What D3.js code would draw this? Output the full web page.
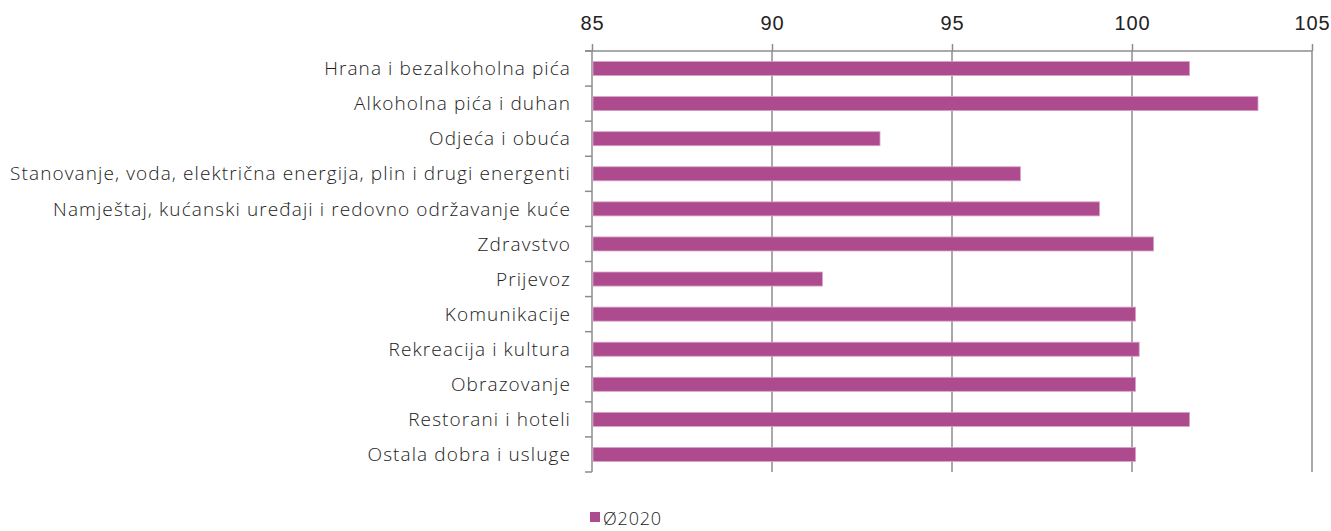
<!DOCTYPE html>
<html lang="hr">
<head>
<meta charset="UTF-8">
<title>Ø2020</title>
<script src="https://d3js.org/d3.v7.min.js"></script>
<style>
  body { margin: 0; background: #fff; }
  svg { display: block; font-family: "Open Sans", sans-serif; }
  .tick text { fill: #222; }
</style>
</head>
<body>
<svg></svg>
<script>
  // podaci
  const categories = [
    "Hrana i bezalkoholna pića",
    "Alkoholna pića i duhan",
    "Odjeća i obuća",
    "Stanovanje, voda, električna energija, plin i drugi energenti",
    "Namještaj, kućanski uređaji i redovno održavanje kuće",
    "Zdravstvo",
    "Prijevoz",
    "Komunikacije",
    "Rekreacija i kultura",
    "Obrazovanje",
    "Restorani i hoteli",
    "Ostala dobra i usluge"
  ];
  const values2020 = [101.6, 103.5, 93.0, 96.9, 99.1, 100.6, 91.4, 100.1, 100.2, 100.1, 101.6, 100.1];
  const xTicks = [85, 90, 95, 100, 105];
  const seriesName = "Ø2020";

  const W = 1331, H = 531;
  const margin = {top: 51, right: 19, bottom: 59, left: 592};
  const w = W - margin.left - margin.right;
  const h = H - margin.top - margin.bottom;
  const barColor = "#ad4b8e";

  const svg = d3.select("svg").attr("width", W).attr("height", H);
  const g = svg.append("g").attr("transform", `translate(${margin.left},${margin.top})`);

  const x = d3.scaleLinear().domain([85, 105]).range([0, w]);
  const y = d3.scaleBand().domain(categories).range([0, h]).paddingInner(0.6).paddingOuter(0.3);

  // mreža
  g.append("g").selectAll("line")
    .data(xTicks.slice(1))
    .join("line")
    .attr("x1", d => x(d)).attr("x2", d => x(d))
    .attr("y1", 0).attr("y2", h)
    .attr("stroke", "#8c8c8c").attr("stroke-width", 1.5);

  // gornja os
  const xAxis = g.append("g")
    .call(d3.axisTop(x).tickValues(xTicks).tickSizeInner(7).tickSizeOuter(0).tickPadding(14));
  xAxis.select(".domain").remove();
  xAxis.append("line").attr("x1", -7).attr("x2", w).attr("y1", 0).attr("y2", 0)
    .attr("stroke", "#8c8c8c").attr("stroke-width", 1.5);
  xAxis.selectAll(".tick line").attr("stroke", "#8c8c8c").attr("stroke-width", 1.5);
  xAxis.selectAll(".tick text").attr("font-size", 20).attr("font-weight", 300)
    .attr("letter-spacing", 0.8);

  // lijeva os
  const boundaries = d3.range(categories.length + 1).map(i => i * y.step());
  g.append("line").attr("x1", 0).attr("x2", 0).attr("y1", 0).attr("y2", h)
    .attr("stroke", "#8c8c8c").attr("stroke-width", 1.5);
  g.append("g").selectAll("line")
    .data(boundaries)
    .join("line")
    .attr("x1", -7).attr("x2", 0)
    .attr("y1", d => d).attr("y2", d => d)
    .attr("stroke", "#8c8c8c").attr("stroke-width", 1.5);

  g.append("g").selectAll("text")
    .data(categories)
    .join("text")
    .attr("x", -21)
    .attr("y", d => y(d) + y.bandwidth() / 2)
    .attr("dy", "0.35em")
    .attr("text-anchor", "end")
    .attr("font-size", 19)
    .attr("font-weight", 300)
    .attr("letter-spacing", 1.1)
    .attr("fill", "#222")
    .text(d => d);

  // stupci
  g.append("g").selectAll("rect")
    .data(categories.map((c, i) => ({c, v: values2020[i]})))
    .join("rect")
    .attr("x", x(85) + 1)
    .attr("y", d => y(d.c))
    .attr("width", d => x(d.v) - x(85) - 1)
    .attr("height", y.bandwidth())
    .attr("fill", barColor)
    .attr("stroke", "#d7a3c7")
    .attr("stroke-width", 0.8);

  // legenda
  const leg = svg.append("g").attr("transform", "translate(590,512)");
  leg.append("rect").attr("width", 10).attr("height", 10).attr("fill", barColor);
  leg.append("text").attr("x", 13).attr("y", 11).attr("dy", "0.1em")
    .attr("font-size", 18).attr("font-weight", 300)
    .attr("letter-spacing", 0.8).attr("fill", "#222").text(seriesName);
</script>
</body>
</html>
